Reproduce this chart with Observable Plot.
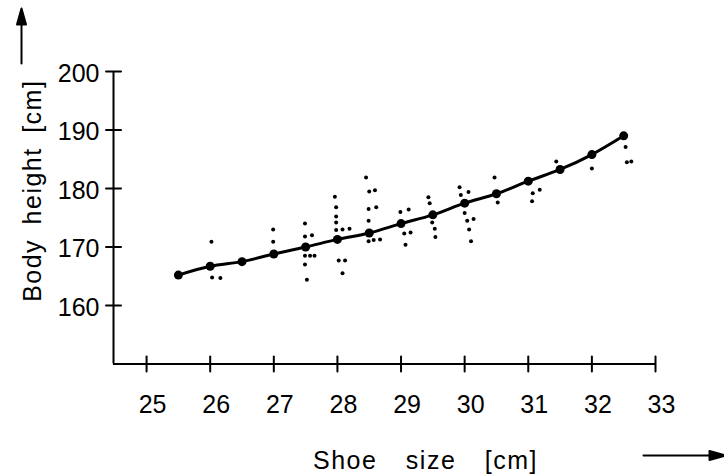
<!DOCTYPE html>
<html><head><meta charset="utf-8">
<script src="https://cdn.jsdelivr.net/npm/d3@7"></script>
<script src="https://cdn.jsdelivr.net/npm/@observablehq/plot@0.6"></script>
<style>body{margin:0;background:#fff}</style>
</head><body><div id="chart"></div>
<script>
// Fitted curve (large dots)
const fitShoe = [25.5,26,26.5,27,27.5,28,28.5,29,29.5,30,30.5,31,31.5,32,32.5];
const fitHeight = [165.2,166.7,167.5,168.8,170.0,171.3,172.4,174.0,175.5,177.5,179.1,181.25,183.25,185.8,189.0];
// Individual observations (small dots)
const obsShoe = [26.02,26.03,26.16,26.99,26.99,27.49,27.49,27.6,27.49,27.57,27.64,27.49,27.52,
  27.96,27.98,27.98,27.98,27.98,28.08,28.19,28.02,28.12,28.08,
  28.45,28.5,28.59,28.49,28.61,28.49,28.49,28.57,28.67,
  28.99,29.12,29.05,29.15,29.07,29.43,29.45,29.49,29.53,29.54,
  29.92,29.94,30.06,30.0,30.04,30.14,30.07,30.1,30.47,30.52,
  31.07,31.18,31.06,31.44,32.0,32.53,32.55,32.62];
const obsHeight = [170.9,164.8,164.7,173.0,170.9,174.0,171.8,172.0,168.5,168.5,168.5,167.0,164.4,
  178.6,176.8,175.2,174.2,172.9,173.0,173.1,167.7,167.7,165.5,
  181.9,179.5,179.7,176.5,176.8,174.5,171.0,171.2,171.3,
  176.0,176.4,172.3,172.5,170.4,178.5,177.5,174.2,173.1,171.7,
  180.2,178.9,179.4,175.8,174.5,174.8,173.0,171.0,181.9,177.6,
  179.2,179.8,177.8,184.6,183.4,187.1,184.5,184.6];
const xTicks = [25,26,27,28,29,30,31,32,33];
const yTicks = [160,170,180,190,200];
const xTitle = "Shoe size [cm]";
const yTitle = "Body height [cm]";

const fit = fitShoe.map((s,i)=>({s, h: fitHeight[i]}));
const obs = obsShoe.map((s,i)=>({s, h: obsHeight[i]}));
const xMin = 24.48, yMin = 150, yMax = 200, xMax = 33;

const tickShape = {draw(c,l){ c.moveTo(0,l/2); c.lineTo(0,-l/2); }};
const arrowShape = {draw(c,l){ c.moveTo(0,0); c.lineTo(0,-l+10); c.moveTo(-4.5,-l+16); c.lineTo(0,-l); c.lineTo(4.5,-l+16); c.closePath(); }};
const font = "'Liberation Sans',Arial,sans-serif";

const chart = Plot.plot({
  width: 724, height: 475,
  marginLeft: 113, marginRight: 69, marginTop: 71, marginBottom: 111.5,
  x: {domain: [xMin, xMax], axis: null},
  y: {domain: [yMin, yMax], axis: null},
  style: {fontFamily: font, background: "#fff", color: "#000"},
  marks: [
    Plot.ruleX([xMin], {y1: yMin, y2: yMax, strokeWidth: 2}),
    Plot.ruleY([yMin], {x1: xMin, x2: xMax, strokeWidth: 2}),
    Plot.vector(xTicks, {x: d=>d, y: yMin, length: 15, anchor: "start", shape: tickShape, strokeWidth: 2}),
    Plot.vector(yTicks, {x: xMin, y: d=>d, length: 15, rotate: 90, anchor: "start", shape: tickShape, strokeWidth: 2}),
    Plot.text(xTicks, {x: d=>d, y: yMin, dy: 40.5, dx: 6, text: d=>String(d), fontSize: 25, lineAnchor: "middle"}),
    Plot.text(yTicks, {x: xMin, y: d=>d, dx: -14, dy: 2, text: d=>String(d), fontSize: 25, textAnchor: "end", lineAnchor: "middle"}),
    Plot.text([xTitle], {frameAnchor: "bottom", textAnchor: "middle", dx: 41, dy: 96.5, fontSize: 25, lineAnchor: "middle"}),
    Plot.text([yTitle], {frameAnchor: "left", textAnchor: "middle", rotate: -90, dx: -81, dy: -27, fontSize: 25, lineAnchor: "middle"}),
    Plot.vector([0], {frameAnchor: "top-left", dx: -92, dy: -8, length: 55, anchor: "start", shape: arrowShape, strokeWidth: 2, stroke: "#000", fill: "#000"}),
    Plot.vector([0], {frameAnchor: "bottom-right", dx: -12, dy: 91.5, length: 82, rotate: 90, anchor: "start", shape: arrowShape, strokeWidth: 2, stroke: "#000", fill: "#000"}),
    Plot.dot(obs, {x: "s", y: "h", r: 2, fill: "#000", stroke: "none"}),
    Plot.line(fit, {x: "s", y: "h", curve: "catmull-rom", strokeWidth: 3, stroke: "#000"}),
    Plot.dot(fit, {x: "s", y: "h", r: 4.5, fill: "#000", stroke: "none"})
  ]
});
d3.select(chart).selectAll("text").each(function(){
  const t = this.textContent;
  if (t === xTitle) d3.select(this).style("letter-spacing", "1.5px").style("word-spacing", "20px");
  if (t === yTitle) d3.select(this).style("letter-spacing", "1.5px").style("word-spacing", "6px");
});
document.getElementById("chart").appendChild(chart);
</script>
</body></html>
